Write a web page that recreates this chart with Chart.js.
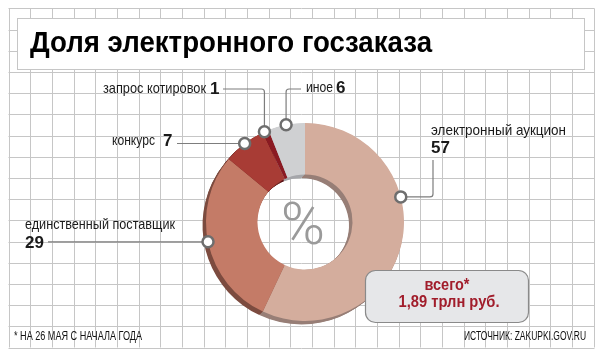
<!DOCTYPE html>
<html>
<head>
<meta charset="utf-8">
<script src="https://cdn.jsdelivr.net/npm/chart.js"></script>
<style>
  html, body { margin: 0; padding: 0; background: #fff; }
  #wrap { width: 604px; height: 360px; }
</style>
</head>
<body>
<div id="wrap"><canvas id="chart" width="604" height="360"></canvas></div>
<script>
// data (% of total, as of 26 May)
var categories = ['электронный аукцион', 'единственный поставщик', 'конкурс', 'запрос котировок', 'иное'];
var shares = [57, 29, 7, 1, 6];
var totalLabel = ['всего*', '1,89 трлн руб.'];

var sliceColors = ['#d4ad9d', '#c47b67', '#a83c35', '#8b1a22', '#cfd0d2'];
var wallColors = ['#977e76', '#7c4b3f', '#6e2824', '#5a1015', '#a5a6aa'];

// where each callout sits: fraction along the slice, bend points, text spots
var callouts = [
    { f: 0.367, path: [['h', 433], ['v', 160]], name: [431, 131, 'left', 135], value: [431, 148, 'left'] },
    { f: 0.51, path: [['h', 48]], name: [25, 225, 'left', 150], value: [25, 243, 'left'] },
    { f: 0.51, path: [['h', 177]], name: [155, 141, 'right', 43], value: [163, 141, 'left'] },
    { f: 0.28, path: [['v', 89], ['h', 223]], name: [206, 89, 'right', 103], value: [210, 89, 'left'] },
    { f: 0.49, path: [['v', 89], ['h', 301]], name: [306, 88, 'left', 27], value: [336, 88, 'left'] }
];

function txt(ctx, s, x, y, font, color, align, w) {
    ctx.save();
    ctx.font = font;
    ctx.fillStyle = color;
    ctx.textBaseline = 'middle';
    ctx.textAlign = align || 'left';
    var m = ctx.measureText(s).width;
    ctx.translate(x, y);
    if (w) ctx.scale(w / m, 1);
    ctx.fillText(s, 0, 0);
    ctx.restore();
}

function roundRect(ctx, x, y, w, h, r) {
    ctx.beginPath();
    ctx.moveTo(x + r, y);
    ctx.arcTo(x + w, y, x + w, y + h, r);
    ctx.arcTo(x + w, y + h, x, y + h, r);
    ctx.arcTo(x, y + h, x, y, r);
    ctx.arcTo(x, y, x + w, y, r);
    ctx.closePath();
}

var decor = {
    id: 'decor',
    beforeDraw: function (chart) {
        var ctx = chart.ctx;
        ctx.save();
        ctx.fillStyle = '#fff';
        ctx.fillRect(0, 0, 604, 360);

        // squared paper
        ctx.strokeStyle = '#c6c6c6';
        ctx.lineWidth = 1;
        ctx.beginPath();
        for (var i = 0; i <= 27; i++) {
            var x = Math.round(8.5 + i * 21.67) + 0.5;
            ctx.moveTo(x, 8.5);
            ctx.lineTo(x, 347.5);
        }
        for (var j = 0; j <= 16; j++) {
            var y = Math.round(8.3 + j * 21.2) + 0.5;
            ctx.moveTo(8.5, y);
            ctx.lineTo(594.5, y);
        }
        ctx.stroke();

        // title box
        ctx.fillStyle = '#fff';
        ctx.fillRect(17.5, 18.5, 567, 51);
        ctx.strokeStyle = '#c6c6c6';
        ctx.strokeRect(17.5, 18.5, 567, 51);
        ctx.restore();

        txt(ctx, 'Доля электронного госзаказа', 30, 44, 'bold 29px "Liberation Sans", Arial, sans-serif', '#000', 'left', 402);
    },
    beforeDatasetsDraw: function (chart) {
        // extruded side of the ring, offset down-left
        var ctx = chart.ctx;
        var meta = chart.getDatasetMeta(0);
        ctx.save();
        meta.data.forEach(function (arc, i) {
            var p = arc.getProps(['x', 'y', 'startAngle', 'endAngle', 'innerRadius', 'outerRadius'], true);
            ctx.fillStyle = wallColors[i];
            for (var d = 0.5; d <= 3.6; d += 0.5) {
                ctx.beginPath();
                ctx.arc(p.x - d, p.y + d, p.outerRadius, p.startAngle, p.endAngle);
                ctx.arc(p.x - d, p.y + d, p.innerRadius, p.endAngle, p.startAngle, true);
                ctx.closePath();
                ctx.fill();
            }
        });
        ctx.restore();
    },
    afterDatasetsDraw: function (chart) {
        var ctx = chart.ctx;
        var meta = chart.getDatasetMeta(0);
        var first = meta.data[0];

        // % in the hole
        ctx.save();
        ctx.font = '300 60px Roboto, "DejaVu Sans", sans-serif';
        ctx.fillStyle = '#9a9a9a';
        ctx.textAlign = 'center';
        ctx.textBaseline = 'alphabetic';
        ctx.fillText('%', first.x - 2, 244);
        ctx.restore();

        // callouts
        var markers = [];
        callouts.forEach(function (c, i) {
            var p = meta.data[i].getProps(['x', 'y', 'startAngle', 'endAngle', 'outerRadius'], true);
            var a = p.startAngle + c.f * (p.endAngle - p.startAngle);
            var mx = p.x + p.outerRadius * Math.cos(a);
            var my = p.y + p.outerRadius * Math.sin(a);
            markers.push([mx, my]);

            var pts = [[mx, my]];
            var cx = mx, cy = my;
            c.path.forEach(function (s) {
                if (s[0] == 'h') cx = s[1]; else cy = s[1];
                pts.push([cx, cy]);
            });
            ctx.save();
            ctx.strokeStyle = '#7d7d7d';
            ctx.lineWidth = 1.2;
            ctx.beginPath();
            ctx.moveTo(pts[0][0], pts[0][1]);
            for (var k = 1; k < pts.length - 1; k++) {
                ctx.arcTo(pts[k][0], pts[k][1], pts[k + 1][0], pts[k + 1][1], 3);
            }
            ctx.lineTo(pts[pts.length - 1][0], pts[pts.length - 1][1]);
            ctx.stroke();
            ctx.restore();

            txt(ctx, categories[i], c.name[0], c.name[1], '15px "Liberation Sans", Arial, sans-serif', '#1a1a1a', c.name[2], c.name[3]);
            txt(ctx, String(shares[i]), c.value[0], c.value[1], 'bold 17px "Liberation Sans", Arial, sans-serif', '#1a1a1a', c.value[2]);
        });

        markers.forEach(function (m) {
            ctx.save();
            ctx.beginPath();
            ctx.arc(m[0], m[1], 5.5, 0, Math.PI * 2);
            ctx.fillStyle = '#fff';
            ctx.fill();
            ctx.lineWidth = 2.5;
            ctx.strokeStyle = '#6e6e6e';
            ctx.stroke();
            ctx.restore();
        });

        // total box
        ctx.save();
        roundRect(ctx, 365.5, 270.5, 163, 52, 10);
        ctx.fillStyle = '#e6e7e9';
        ctx.fill();
        ctx.strokeStyle = '#8a8a8a';
        ctx.lineWidth = 1.2;
        ctx.stroke();
        ctx.restore();
        txt(ctx, totalLabel[0], 447, 286, 'bold 16px "Liberation Sans", Arial, sans-serif', '#a11d2b', 'center', 45);
        txt(ctx, totalLabel[1], 449, 302, 'bold 17px "Liberation Sans", Arial, sans-serif', '#a11d2b', 'center', 101);

        // footer
        txt(ctx, '* НА 26 МАЯ С НАЧАЛА ГОДА', 14, 337, '12px "Liberation Sans", Arial, sans-serif', '#111', 'left', 128);
        txt(ctx, 'ИСТОЧНИК: ZAKUPKI.GOV.RU', 586, 337, '12px "Liberation Sans", Arial, sans-serif', '#111', 'right', 122);
    }
};

var ctx = document.getElementById('chart').getContext('2d');
var chart = new Chart(ctx, {
    type: 'doughnut',
    data: {
        labels: categories,
        datasets: [{
            data: shares,
            backgroundColor: sliceColors,
            borderWidth: 0
        }]
    },
    options: {
        responsive: false,
        devicePixelRatio: 1,
        animation: false,
        cutout: '48%',
        layout: {
            padding: { left: 206, right: 200, top: 123, bottom: 39 }
        },
        plugins: {
            legend: { display: false },
            tooltip: { enabled: false }
        }
    },
    plugins: [decor]
});
</script>
</body>
</html>
